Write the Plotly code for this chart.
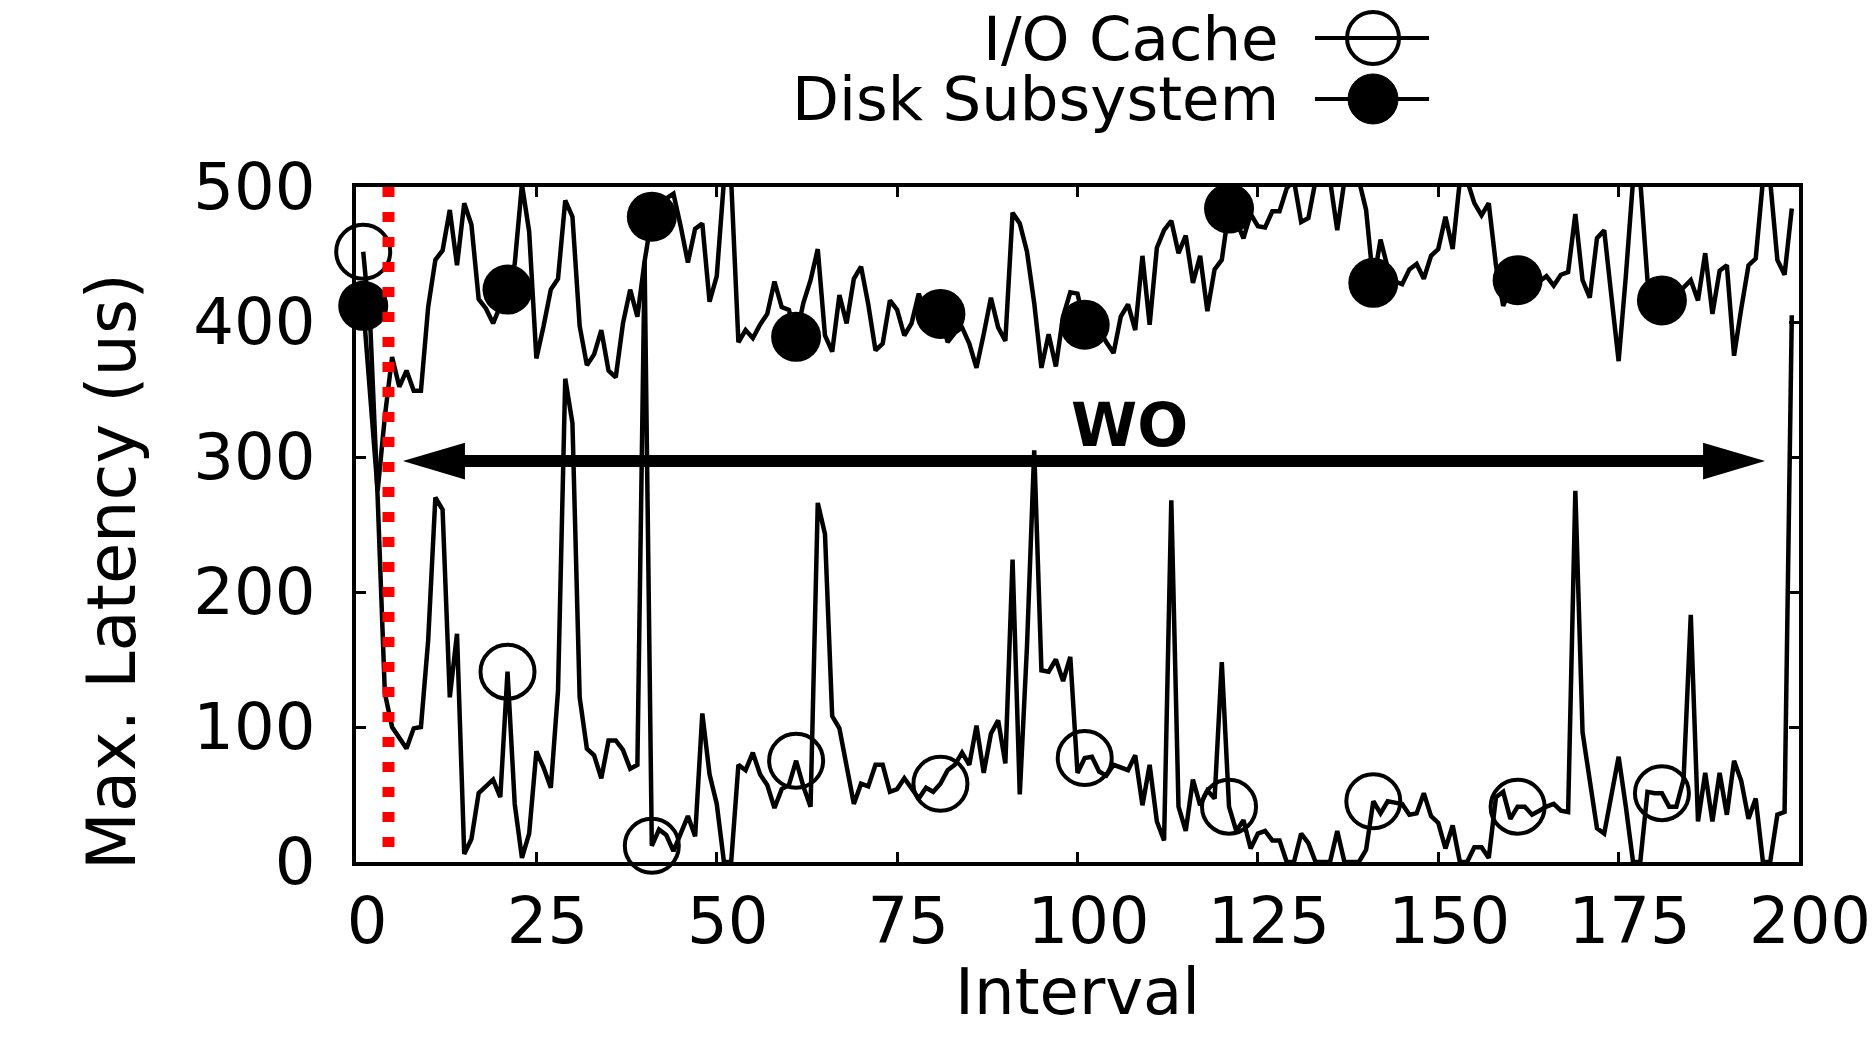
import plotly.graph_objects as go

# ---------------- data ----------------
interval = list(range(1, 200))

io_cache = [
    452, 395, 270, 125, 100, 92, 84, 99, 100, 164,
    270, 261, 122, 169, 6, 17, 51, 56, 61, 48,
    141, 43, 3, 21, 82, 70, 55, 127, 358, 325,
    122, 84, 79, 62, 90, 90, 83, 69, 72, 445,
    12, 24, 20, 8, 22, 34, 19, 110, 65, 43,
    0, 0, 72, 68, 81, 65, 57, 40, 54, 57,
    75, 56, 41, 266, 243, 108, 99, 70, 43, 58,
    56, 72, 72, 52, 54, 62, 55, 47, 55, 52,
    58, 68, 72, 81, 72, 101, 66, 95, 105, 73,
    224, 50, 160, 305, 142, 141, 150, 134, 152, 66,
    77, 78, 67, 64, 72, 70, 68, 79, 42, 72,
    30, 16, 268, 41, 23, 61, 42, 53, 47, 148,
    41, 23, 31, 10, 21, 23, 16, 16, 0, 0,
    21, 14, 0, 0, 0, 23, 0, 0, 0, 9,
    45, 36, 45, 44, 43, 35, 36, 51, 34, 29,
    10, 27, 0, 0, 11, 11, 3, 48, 52, 32,
    41, 41, 35, 38, 41, 43, 38, 37, 275, 96,
    60, 25, 21, 50, 78, 41, 0, 0, 52, 51,
    51, 41, 41, 61, 183, 30, 66, 30, 66, 35,
    75, 60, 32, 47, 0, 0, 35, 37, 405,
]

disk_subsystem = [
    412, 340, 275, 330, 374, 352, 364, 349, 349, 411,
    446, 453, 483, 442, 488, 472, 417, 410, 399, 412,
    424, 443, 502, 467, 373, 397, 424, 432, 490, 478,
    397, 368, 376, 394, 364, 359, 399, 424, 404, 445,
    478, 488, 492, 495, 471, 444, 469, 473, 415, 434,
    505, 505, 385, 394, 388, 398, 406, 430, 411, 409,
    389, 414, 431, 454, 390, 378, 420, 399, 432, 441,
    413, 379, 384, 416, 409, 390, 399, 421, 405, 410,
    406, 385, 392, 396, 384, 366, 391, 418, 396, 386,
    481, 473, 452, 414, 366, 391, 367, 404, 422, 421,
    398, 400, 395, 385, 377, 404, 413, 394, 449, 398,
    455, 468, 475, 451, 464, 429, 449, 408, 439, 446,
    484, 475, 462, 480, 471, 470, 482, 482, 499, 505,
    474, 477, 505, 505, 505, 468, 505, 505, 505, 483,
    429, 461, 440, 430, 428, 439, 443, 432, 449, 454,
    478, 454, 505, 505, 488, 479, 488, 442, 412, 425,
    431, 428, 425, 430, 434, 427, 435, 437, 480, 431,
    418, 462, 468, 419, 371, 434, 505, 505, 431, 420,
    416, 412, 420, 425, 431, 416, 451, 406, 438, 442,
    375, 410, 442, 447, 505, 505, 446, 435, 484,
]

marker_step = 20
x_ticks = [0, 25, 50, 75, 100, 125, 150, 175, 200]
y_ticks = [0, 100, 200, 300, 400, 500]

phase_x = 4.5                   # red dotted boundary
wo_arrow = (6.5, 195.3, 297)    # left tip, right tip, y
wo_label = (107.2, 324)

FONT = "DejaVu Sans"

# ---------------- figure ----------------
fig = go.Figure()

fig.add_trace(go.Scatter(x=interval, y=disk_subsystem, mode="lines",
                         line=dict(color="black", width=4.5), showlegend=False))
fig.add_trace(go.Scatter(x=interval, y=io_cache, mode="lines",
                         line=dict(color="black", width=4.5), showlegend=False))
fig.add_trace(go.Scatter(x=interval[::marker_step], y=disk_subsystem[::marker_step],
                         mode="markers", cliponaxis=False, showlegend=False,
                         marker=dict(symbol="circle", size=50, color="black")))
fig.add_trace(go.Scatter(x=interval[::marker_step], y=io_cache[::marker_step],
                         mode="markers", cliponaxis=False, showlegend=False,
                         marker=dict(symbol="circle-open", size=54, color="black",
                                     line=dict(width=4, color="black"))))

axis_common = dict(showline=True, linewidth=3.5, linecolor="black", mirror="ticks",
                   ticks="inside", ticklen=10, tickwidth=2.5, tickcolor="black",
                   showgrid=False, zeroline=False, automargin=False,
                   tickfont=dict(family=FONT, size=64, color="black"))

fig.update_xaxes(range=[0, 200], tickvals=x_ticks, ticklabelstandoff=0,
                 ticklabelshift=11, **axis_common)
fig.update_yaxes(range=[0, 500], tickvals=y_ticks, ticklabelstandoff=24, **axis_common)

shapes = []
# red dotted vertical line
shapes.append(dict(type="line", xref="x", yref="y", x0=phase_x, x1=phase_x, y0=500, y1=9,
                   line=dict(color="red", width=12, dash="10px,15px")))
# double-headed arrow
lt, rt, ay = wo_arrow
hl, hh = 8.6, 13.6
shapes.append(dict(type="line", xref="x", yref="y", x0=lt + hl * 0.5, x1=rt - hl * 0.5, y0=ay, y1=ay,
                   line=dict(color="black", width=12)))
shapes.append(dict(type="path", xref="x", yref="y",
                   path=f"M {lt},{ay} L {lt + hl},{ay + hh} L {lt + hl},{ay - hh} Z",
                   fillcolor="black", line=dict(width=0)))
shapes.append(dict(type="path", xref="x", yref="y",
                   path=f"M {rt},{ay} L {rt - hl},{ay + hh} L {rt - hl},{ay - hh} Z",
                   fillcolor="black", line=dict(width=0)))

# manual legend (gnuplot style: text then sample)
leg_rows = [("I/O Cache", 1.2207, "open"), ("Disk Subsystem", 1.1304, "filled")]
annotations = []
for label, yp, kind in leg_rows:
    annotations.append(dict(text=label, xref="paper", yref="paper", x=0.6411, y=yp,
                            xanchor="right", yanchor="middle", showarrow=False,
                            font=dict(family=FONT, size=61, color="black")))
    shapes.append(dict(type="line", xref="paper", yref="paper", x0=0.6646, x1=0.7436,
                       y0=yp, y1=yp, line=dict(color="black", width=4)))
    if kind == "open":
        shapes.append(dict(type="circle", xref="paper", yref="paper",
                           xsizemode="pixel", ysizemode="pixel",
                           xanchor=0.7048, yanchor=yp, x0=-26, x1=26, y0=-26, y1=26,
                           line=dict(color="black", width=4)))
    else:
        shapes.append(dict(type="circle", xref="paper", yref="paper",
                           xsizemode="pixel", ysizemode="pixel",
                           xanchor=0.7048, yanchor=yp, x0=-25, x1=25, y0=-25, y1=25,
                           fillcolor="black", line=dict(color="black", width=1)))

annotations.append(dict(text="<b>WO</b>", xref="x", yref="y", x=wo_label[0], y=wo_label[1],
                        showarrow=False, xanchor="center", yanchor="middle",
                        font=dict(family=FONT, size=60, color="black")))
annotations.append(dict(text="Interval", xref="paper", yref="paper", x=0.5, y=-0.192,
                        showarrow=False, xanchor="center", yanchor="middle",
                        font=dict(family=FONT, size=64, color="black")))
annotations.append(dict(text="Max. Latency (us)", xref="paper", yref="paper", x=-0.169, y=0.43,
                        showarrow=False, xanchor="center", yanchor="middle", textangle=-90,
                        font=dict(family=FONT, size=67, color="black")))

fig.update_layout(width=1875, height=1050,
                  margin=dict(l=356, r=76, t=187, b=188, autoexpand=False),
                  paper_bgcolor="white", plot_bgcolor="white",
                  showlegend=False, shapes=shapes, annotations=annotations,
                  font=dict(family=FONT, color="black"))

fig.write_html("out.html")
